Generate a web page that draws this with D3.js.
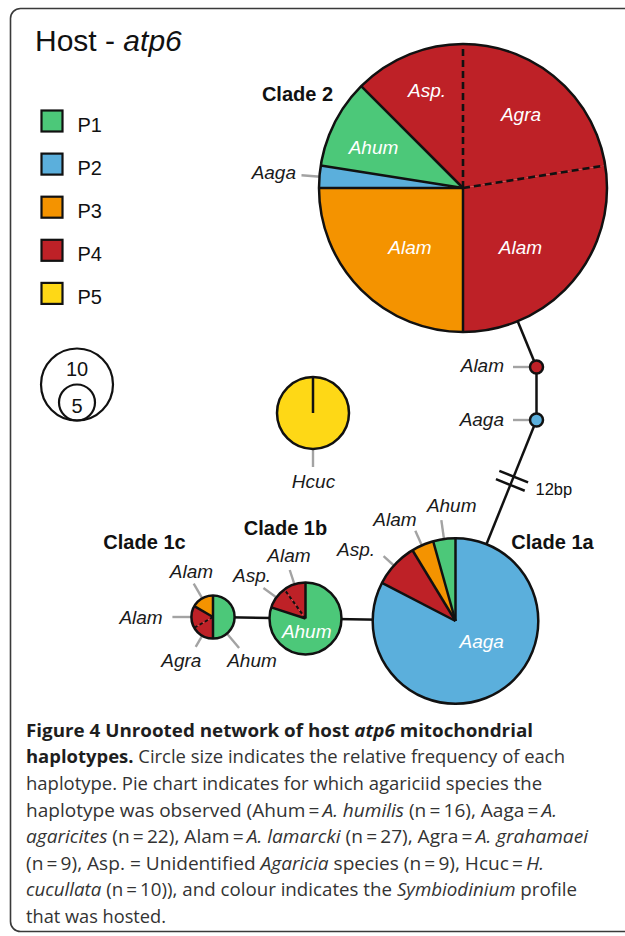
<!DOCTYPE html>
<html><head><meta charset="utf-8">
<script src="https://cdn.jsdelivr.net/npm/d3@7"></script>
<style>body{margin:0;background:#fff}svg{display:block}</style>
</head><body>
<svg id="chart" width="625" height="936"></svg>
<script>
// ---------------- data ----------------
const profileNames  = ["P1","P2","P3","P4","P5"];
const profileColors = ["#4cc879","#5bafdc","#f49300","#be2127","#fed816"];

const haplotypes = ["Clade 2","Alam","Aaga","Hcuc","Clade 1a","Clade 1b","Clade 1c"];
// pie slices of each haplotype, clockwise from 12 o'clock
const sliceHaplotype = ["Clade 2","Clade 2","Clade 2","Clade 2","Clade 2","Clade 2",
  "Alam","Aaga","Hcuc",
  "Clade 1a","Clade 1a","Clade 1a","Clade 1a",
  "Clade 1b","Clade 1b","Clade 1b",
  "Clade 1c","Clade 1c","Clade 1c","Clade 1c"];
const sliceSpecies = ["Agra","Alam","Alam","Aaga","Ahum","Asp.",
  "Alam","Aaga","Hcuc",
  "Aaga","Asp.","Alam","Ahum",
  "Ahum","Asp.","Alam",
  "Ahum","Agra","Alam","Alam"];
const sliceProfile = ["P4","P4","P3","P2","P1","P4",
  "P4","P2","P5",
  "P2","P4","P3","P1",
  "P1","P4","P4",
  "P1","P4","P4","P3"];
const sliceCount = [9,11,10,1,4,5, 1,1,10, 19,2,1,1, 8,1,1, 3,1,1,1];

const links = [["Clade 2","Alam"],["Alam","Aaga"],["Aaga","Clade 1a"],["Clade 1a","Clade 1b"],["Clade 1b","Clade 1c"]];
const mutationLink = ["Aaga","Clade 1a"];
const mutationLabel = "12bp";
const sizeLegendValues = [10,5];

// ---------------- layout ----------------
const nodePos = {"Clade 2":[463,188],"Alam":[536.5,367],"Aaga":[536.5,420],"Hcuc":[313,413],
  "Clade 1a":[455.5,621],"Clade 1b":[305.5,618.5],"Clade 1c":[213,617]};
const cladeTitles = [["Clade 2",297.5,101],["Clade 1a",552.5,548.5],["Clade 1b",285.5,535],["Clade 1c",144.5,549]];
// labels inside slices (white)
const innerLabels = [["Asp.",427,97],["Agra",521,121],["Ahum",373.5,154],["Alam",410,254],["Alam",520.5,254],
  ["Aaga",481.7,648.3],["Ahum",306.7,638.3]];
// outside labels: node, leader angle (deg clockwise from 12), leader length, text, tx, ty, anchor
const outerLabels = [
  ["Clade 2",274.5,18,"Aaga",296,178.5,"end"],
  ["Alam",270,17,"Alam",504,372,"end"],
  ["Aaga",270,17,"Aaga",504,426,"end"],
  ["Hcuc",180,18,"Hcuc",313.5,488,"middle"],
  ["Clade 1a",352,19,"Ahum",451.7,511.7,"middle"],
  ["Clade 1a",336,16,"Alam",395,526,"middle"],
  ["Clade 1a",312,14,"Asp.",375,556,"end"],
  ["Clade 1b",342,15,"Alam",289,562,"middle"],
  ["Clade 1b",306,16,"Asp.",271,581.7,"end"],
  ["Clade 1c",330,17,"Alam",191.5,577.7,"middle"],
  ["Clade 1c",270,19,"Alam",162.7,624,"end"],
  ["Clade 1c",210,13,"Agra",181.3,666.7,"middle"],
  ["Clade 1c",140,19,"Ahum",252,666.7,"middle"]
];

const svg = d3.select("#chart");
const SANS = "'Liberation Sans', Arial, Helvetica, sans-serif";
const color = d3.scaleOrdinal().domain(profileNames).range(profileColors);
const rScale = d3.scaleLinear().domain([0,10]).range([0,36]);
const minR = 6.5;

const slices = sliceCount.map((c,i)=>({hap:sliceHaplotype[i],species:sliceSpecies[i],profile:sliceProfile[i],count:c}));
const totals = {};
haplotypes.forEach(h=>totals[h]=d3.sum(slices.filter(s=>s.hap===h),s=>s.count));
const radius = h => Math.max(rScale(totals[h]), minR);

// frame
svg.append("rect").attr("x",10.5).attr("y",8.5).attr("width",660).attr("height",923)
  .attr("rx",10).attr("fill","none").attr("stroke","#3a3a3a").attr("stroke-width",1.6);

// title
const title = svg.append("text").attr("x",35).attr("y",50.7).attr("font-family",SANS).attr("font-size",30).attr("fill","#111");
title.append("tspan").text("Host - ");
title.append("tspan").attr("font-style","italic").text("atp6");

// colour legend
const lg = svg.append("g");
profileNames.forEach((p,i)=>{
  const cy = 121 + i*43.1;
  lg.append("rect").attr("x",41.5).attr("y",cy-10.5).attr("width",21).attr("height",21)
    .attr("fill",color(p)).attr("stroke","#111").attr("stroke-width",2.2);
  lg.append("text").attr("x",77.5).attr("y",cy+10.5).attr("font-family",SANS).attr("font-size",20).attr("fill","#111").text(p);
});

// size legend
const slBottom = 420.5, slX = 77;
sizeLegendValues.forEach((v,i)=>{
  const R = rScale(v);
  svg.append("circle").attr("cx",slX).attr("cy",slBottom-R).attr("r",R)
    .attr("fill","none").attr("stroke","#111").attr("stroke-width",2.2);
  svg.append("text").attr("x",slX).attr("y", i===0 ? 376 : 412.5).attr("text-anchor","middle")
    .attr("font-family",SANS).attr("font-size",20).attr("fill","#111").text(v);
});

// links
const linkG = svg.append("g");
links.forEach(([a,b])=>{
  linkG.append("line").attr("x1",nodePos[a][0]).attr("y1",nodePos[a][1])
    .attr("x2",nodePos[b][0]).attr("y2",nodePos[b][1]).attr("stroke","#111").attr("stroke-width",2.5);
});
// mutation hatches
{
  const [a,b] = mutationLink; const p = nodePos[a], q = nodePos[b];
  const dx=q[0]-p[0], dy=q[1]-p[1], L=Math.hypot(dx,dy), ux=dx/L, uy=dy/L, px=-uy, py=ux;
  [61,70].forEach(d=>{
    const cx=p[0]+ux*d, cy=p[1]+uy*d, h=15.5;
    linkG.append("line").attr("x1",cx-px*h).attr("y1",cy-py*h).attr("x2",cx+px*h).attr("y2",cy+py*h)
      .attr("stroke","#111").attr("stroke-width",2.5);
  });
  svg.append("text").attr("x",535.5).attr("y",495).attr("font-family",SANS).attr("font-size",16.5).attr("fill","#111").text(mutationLabel);
}

// leader lines (under pies)
const leadG = svg.append("g");
outerLabels.forEach(([node,ang,len,txt,tx,ty,anchor])=>{
  const R = radius(node), a = ang*Math.PI/180, c = nodePos[node];
  const sx = Math.sin(a), sy = -Math.cos(a);
  leadG.append("line").attr("x1",c[0]+sx*(R-1)).attr("y1",c[1]+sy*(R-1))
    .attr("x2",c[0]+sx*(R+len)).attr("y2",c[1]+sy*(R+len))
    .attr("stroke","#a3a3a3").attr("stroke-width",2.4);
  svg.append("text").attr("x",tx).attr("y",ty).attr("text-anchor",anchor)
    .attr("font-family",SANS).attr("font-style","italic").attr("font-size",19).attr("fill","#1a1a1a").text(txt);
});

// pies
const pie = d3.pie().sort(null).value(d=>d.count);
haplotypes.forEach(h=>{
  const sl = slices.filter(s=>s.hap===h);
  const R = radius(h);
  const big = R > 100;
  const g = svg.append("g").attr("transform",`translate(${nodePos[h][0]},${nodePos[h][1]})`);
  const arcs = pie(sl);
  const arc = d3.arc().innerRadius(0).outerRadius(R);
  g.selectAll("path").data(arcs).join("path").attr("d",arc).attr("fill",d=>color(d.data.profile));
  if (totals[h] > 1) {
    arcs.forEach((a,i)=>{
      const prev = arcs[(i-1+arcs.length)%arcs.length];
      const dashed = arcs.length>1 && prev.data.profile===a.data.profile;
      const ang = a.startAngle;
      const ln = g.append("line").attr("x1",0).attr("y1",0)
        .attr("x2",Math.sin(ang)*R).attr("y2",-Math.cos(ang)*R)
        .attr("stroke","#111").attr("stroke-width", dashed ? (big?2.6:2) : 2.5);
      if (dashed) ln.attr("stroke-dasharray", big ? "7,4" : "3.5,2.5");
    });
  }
  g.append("circle").attr("r",R).attr("fill","none").attr("stroke","#111").attr("stroke-width",2.5);
});

// inner labels
innerLabels.forEach(([t,x,y])=>{
  svg.append("text").attr("x",x).attr("y",y).attr("text-anchor","middle")
    .attr("font-family",SANS).attr("font-style","italic").attr("font-size",19).attr("fill","#fff").text(t);
});
// clade titles
cladeTitles.forEach(([t,x,y])=>{
  svg.append("text").attr("x",x).attr("y",y).attr("text-anchor","middle")
    .attr("font-family",SANS).attr("font-weight","bold").attr("font-size",20).attr("fill","#111").text(t);
});

// caption
const CAP = "'Open Sans', 'Noto Sans', sans-serif";
const captionLines = [
  [["b","Figure 4 Unrooted network of host "],["bi","atp6"],["b"," mitochondrial"]],
  [["b","haplotypes."],["r"," Circle size indicates the relative frequency of each"]],
  [["r","haplotype. Pie chart indicates for which agariciid species the"]],
  [["r","haplotype was observed (Ahum\u2009=\u2009"],["i","A. humilis"],["r"," (n\u2009=\u200916), Aaga\u2009=\u2009"],["i","A."]],
  [["i","agaricites"],["r"," (n\u2009=\u200922), Alam\u2009=\u2009"],["i","A. lamarcki"],["r"," (n\u2009=\u200927), Agra\u2009=\u2009"],["i","A. grahamaei"]],
  [["r","(n\u2009=\u20099), Asp. = Unidentified "],["i","Agaricia"],["r"," species (n\u2009=\u20099), Hcuc\u2009=\u2009"],["i","H."]],
  [["i","cucullata"],["r"," (n\u2009=\u200910)), and colour indicates the "],["i","Symbiodinium"],["r"," profile"]],
  [["r","that was hosted."]]
];
const captionWidths = [507,539,516,531,562,518,551,140];
captionLines.forEach((parts,i)=>{
  const t = svg.append("text").attr("x",26).attr("y",736.7+i*26.6)
    .attr("font-family",CAP).attr("font-size",17.5).attr("fill","#333");
  parts.forEach(([s,txt])=>{
    const sp = t.append("tspan").text(txt);
    if (s.includes("b")) sp.attr("font-weight","bold").attr("fill","#1e1e1e");
    if (s.includes("i")) sp.attr("font-style","italic");
  });
  t.attr("textLength",captionWidths[i]).attr("lengthAdjust","spacingAndGlyphs");
});
</script>
</body></html>
